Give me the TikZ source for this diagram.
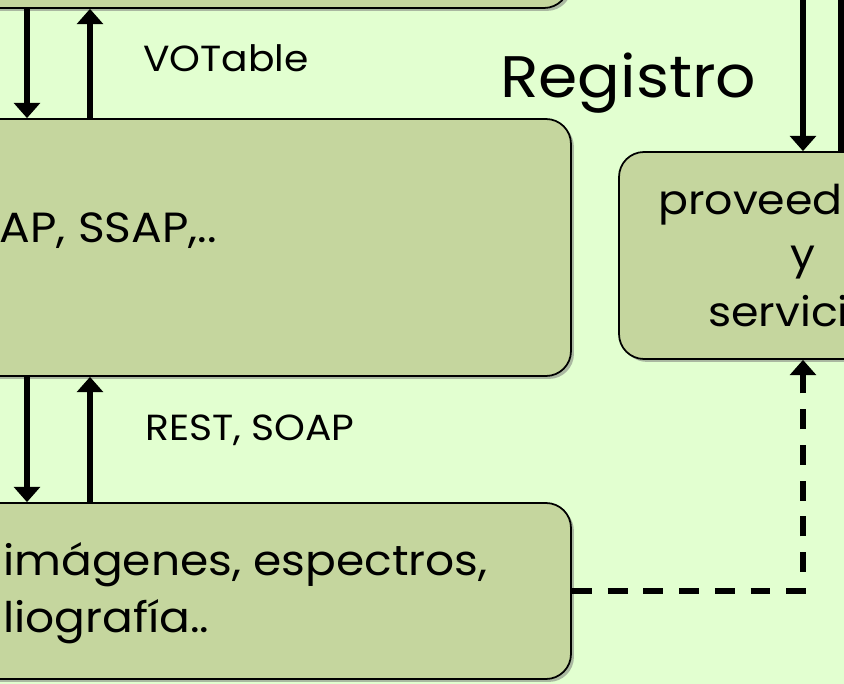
\documentclass[tikz,border=0pt]{standalone}
\usepackage{fontspec}
\setmainfont{Poppins}[FakeStretch=1.08]
\usetikzlibrary{arrows.meta,shadows}
\definecolor{bgcol}{RGB}{226,255,208}
\definecolor{boxcol}{RGB}{197,214,158}
\newcommand{\pxu}{0.03cm}

\begin{document}
\begin{tikzpicture}[x=0.03cm, y=-0.03cm]
  \tikzset{box/.style={draw,line width=1.5pt,rounded corners=0.75cm,fill=boxcol,
             drop shadow={shadow xshift=2.5pt,shadow yshift=-2.5pt,fill=black!55}},
           txt/.style={inner sep=0pt,anchor=base west},
           link/.style={line width=4.5pt,-{Triangle[width=22pt,length=13pt]}},
           dashlink/.style={link,dash pattern=on 17pt off 13.5pt}}
  \fill[bgcol] (0,0) rectangle (844,684);
  \useasboundingbox (0,0) rectangle (844,684);
  \clip (0,0) rectangle (844,684);

  \node[box,minimum width=869*\pxu,minimum height=208*\pxu] (cliente) at (134.5,-96) {};
  \node[box,minimum width=871*\pxu,minimum height=257*\pxu] (protocolo) at (135.5,247.5) {};
  \node[box,minimum width=871*\pxu,minimum height=176*\pxu] (datos) at (135.5,591) {};
  \node[box,minimum width=368*\pxu,minimum height=207*\pxu] (proveedor) at (803,255.5) {};

  \coordinate (izq) at (27,0);
  \coordinate (der) at (90,0);
  \coordinate (registro) at (803,-10);
  \coordinate (arriba) at (841,-10);

  \draw[link] (izq |- cliente.south) -- (izq |- protocolo.north);
  \draw[link] (der |- protocolo.north) -- (der |- cliente.south);
  \draw[link] (izq |- protocolo.south) -- (izq |- datos.north);
  \draw[link] (der |- datos.north) -- (der |- protocolo.south);
  \draw[link] (registro) -- (proveedor.north);
  \draw[line width=4.5pt] (arriba |- proveedor.north) -- (arriba);
  \draw[dashlink] (datos.east) -| (proveedor.south);

  \node[txt] (votable) at (143,72) {\fontsize{31pt}{31pt}\selectfont VOTable};
  \node[txt] (reg) at (500,98) {\fontsize{50pt}{50pt}\selectfont Registro};
  \node[txt,anchor=base east] (ssap) at (217,243) {\fontsize{36pt}{36pt}\selectfont AP, SSAP,..};
  \node[txt] (rest) at (145,440) {\fontsize{31pt}{31pt}\selectfont REST, SOAP};
  \node[txt] (datosA) at (3,575) {\fontsize{36pt}{36pt}\selectfont imágenes, espectros,};
  \node[txt] (datosB) at (3,632) {\fontsize{36pt}{36pt}\selectfont liografía..};
  \node[txt] (provA) at (658,215) {\fontsize{35pt}{35pt}\selectfont proveed};
  \node[txt,anchor=base] (provB) at (803,269) {\fontsize{35pt}{35pt}\selectfont y};
  \node[txt] (provC) at (708,327) {\fontsize{35pt}{35pt}\selectfont servici};
\end{tikzpicture}
\end{document}
